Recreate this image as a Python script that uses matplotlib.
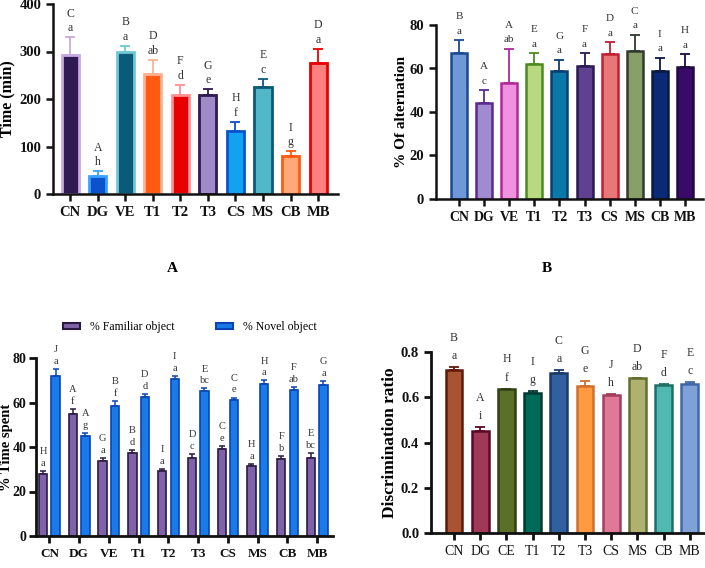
import matplotlib
matplotlib.use("Agg")
import matplotlib.pyplot as plt
from matplotlib.patches import Patch

plt.rcParams["font.family"] = ["Liberation Serif", "DejaVu Serif"]

# ---- data ----------------------------------------------------------------
groups = ["CN", "DG", "VE", "T1", "T2", "T3", "CS", "MS", "CB", "MB"]
groups_d = ["CN", "DG", "CE", "T1", "T2", "T3", "CS", "MS", "CB", "MB"]

time_mean = [292, 38, 298, 252, 209, 209, 133, 225, 81, 275]
time_err = [38, 10, 14, 31, 21, 11, 19, 18, 9, 31]
time_up = ["C", "A", "B", "D", "F", "G", "H", "E", "I", "D"]
time_low = ["a", "h", "a", "ab", "d", "e", "f", "c", "g", "a"]

alt_mean = [67, 44, 53.5, 62, 59, 61, 66.5, 68, 59, 60.5]
alt_err = [6, 6, 15.5, 5, 5, 6, 5.5, 7.5, 6, 6]
alt_up = ["B", "A", "A", "E", "G", "F", "D", "C", "I", "H"]
alt_low = ["a", "c", "ab", "a", "a", "a", "a", "a", "a", "a"]

fam_mean = [28, 55, 33.5, 37.5, 29.2, 35.2, 39, 31.5, 34.5, 35.2]
fam_err = [1.2, 2.0, 1.7, 1.2, 0.8, 1.5, 1.3, 0.8, 1.3, 2.2]
fam_up = ["H", "A", "G", "B", "I", "D", "C", "H", "F", "E"]
fam_low = ["a", "f", "a", "d", "a", "c", "e", "a", "b", "bc"]
nov_mean = [72, 45, 58.3, 62.3, 70.6, 65, 61, 68.5, 65.5, 68]
nov_err = [3.0, 1.3, 2.2, 1.5, 1.3, 1.3, 1.2, 1.4, 1.4, 1.6]
nov_up = ["J", "A", "B", "D", "I", "E", "C", "H", "F", "G"]
nov_low = ["a", "g", "f", "d", "a", "bc", "e", "a", "ab", "a"]

dr_mean = [0.72, 0.45, 0.635, 0.62, 0.705, 0.648, 0.61, 0.683, 0.652, 0.658]
dr_err = [0.015, 0.017, 0.003, 0.007, 0.015, 0.026, 0.003, 0.003, 0.006, 0.009]
dr_up = ["B", "A", "H", "I", "C", "G", "J", "D", "F", "E"]
dr_low = ["a", "i", "f", "g", "a", "e", "h", "ab", "d", "c"]

# ---- colours (fill, edge) ------------------------------------------------
A_FILL = ["#2f1a52", "#0b52cc", "#0b5a78", "#ff5a12", "#e80000",
          "#a08ac8", "#12a2f0", "#52b8c8", "#ffa87a", "#ff8080"]
A_EDGE = ["#c8aae2", "#3aa2ff", "#72c8d8", "#ffb292", "#ff9090",
          "#2f1a52", "#0b52cc", "#0b5a78", "#ff5a12", "#e80000"]
B_FILL = ["#7098d8", "#a08ad0", "#f092e0", "#b8d882", "#0a78a8",
          "#604090", "#e87878", "#88a068", "#0a2a78", "#3a0a68"]
B_EDGE = ["#1a4a90", "#5a2a90", "#b02a98", "#4a8a20", "#0a4070",
          "#2a1a50", "#c02030", "#303a30", "#0a1a40", "#200a40"]
D_FILL = ["#a85432", "#a03858", "#5a7028", "#006a58", "#3060a0",
          "#ff9a40", "#e07898", "#b0b070", "#50b8b0", "#80a0d8"]
D_EDGE = ["#601a08", "#5a0a28", "#304010", "#003a30", "#1a3a6a",
          "#d07030", "#a04060", "#607030", "#207068", "#4068a8"]
FAM_FILL, FAM_EDGE = "#8062aa", "#2a1a42"
NOV_FILL, NOV_EDGE = "#1a7ae8", "#0a44b4"

W, H = 705, 568
fig = plt.figure(figsize=(W / 100, H / 100), dpi=100)


def px_axes(left, right, bottom, top):
    return fig.add_axes([left / W, 1 - bottom / H, (right - left) / W, (bottom - top) / H])


def style(ax, bold_x=True, lw=1.8, xfs=10, yfs=10.5):
    for s in ("top", "right"):
        ax.spines[s].set_visible(False)
    for s in ("left", "bottom"):
        ax.spines[s].set_linewidth(lw)
        ax.spines[s].set_color("#111111")
    ax.tick_params(width=lw, length=5, colors="#111111")
    for t in ax.get_yticklabels():
        t.set_fontweight("bold")
        t.set_fontsize(yfs)
    for t in ax.get_xticklabels():
        t.set_fontweight("bold" if bold_x else "normal")
        t.set_fontsize(xfs)


def bars(ax, x, mean, err, fills, edges, width, lw=1.6):
    ax.bar(x, mean, width=width, color=fills, edgecolor=edges, linewidth=lw, zorder=2)
    for xi, m, e, c in zip(x, mean, err, edges):
        ax.errorbar(xi, m, yerr=[[0], [e]], ecolor=c, elinewidth=1.3,
                    capsize=3.5, capthick=1.3, fmt="none", zorder=1)


def letters(ax, x, mean, err, up, low, fs=8.5, d1=6.5, d2=17):
    for xi, m, e, u, l in zip(x, mean, err, up, low):
        ax.annotate(l, (xi, m + e), xytext=(0, d1), textcoords="offset points",
                    ha="center", va="center", fontsize=fs, color="#333333")
        ax.annotate(u, (xi, m + e), xytext=(0, d2), textcoords="offset points",
                    ha="center", va="center", fontsize=fs, color="#333333")


xs = list(range(len(groups)))

# ---- A: time -------------------------------------------------------------
axA = px_axes(53, 338, 194, 4)
bars(axA, xs, time_mean, time_err, A_FILL, A_EDGE, 0.62, lw=2.0)
letters(axA, xs, time_mean, time_err, time_up, time_low)
axA.set_ylim(0, 400)
axA.set_yticks([0, 100, 200, 300, 400])
axA.set_xlim(-0.62, 9.72)
axA.set_xticks(xs)
axA.set_xticklabels(groups)
axA.set_ylabel("Time (min)", fontsize=11.5, fontweight="bold", labelpad=3)
style(axA, xfs=10.5)
fig.text(172 / W, 1 - 268 / H, "A", ha="center", va="center", fontsize=11, fontweight="bold")

# ---- B: alternation -------------------------------------------------------
axB = px_axes(436, 703, 199, 25)
bars(axB, xs, alt_mean, alt_err, B_FILL, B_EDGE, 0.64, lw=1.8)
letters(axB, xs, alt_mean, alt_err, alt_up, alt_low, fs=8)
axB.set_ylim(0, 80)
axB.set_yticks([0, 20, 40, 60, 80])
axB.set_xlim(-0.92, 9.72)
axB.set_xticks(xs)
axB.set_xticklabels(groups)
axB.set_ylabel("% Of alternation", fontsize=11, fontweight="bold", labelpad=1)
style(axB)
fig.text(547 / W, 1 - 268 / H, "B", ha="center", va="center", fontsize=11, fontweight="bold")

# ---- C: time spent familiar vs novel --------------------------------------
axC = px_axes(36, 333, 536, 358)
off, bw = 0.21, 0.28
xf = [x - off for x in xs]
xn = [x + off for x in xs]
axC.bar(xf, fam_mean, width=bw, color=FAM_FILL, edgecolor=FAM_EDGE, linewidth=1.2, zorder=2)
axC.bar(xn, nov_mean, width=bw, color=NOV_FILL, edgecolor=NOV_EDGE, linewidth=1.2, zorder=2)
for xi, m, e in zip(xf, fam_mean, fam_err):
    axC.errorbar(xi, m, yerr=[[0], [e]], ecolor=FAM_EDGE, elinewidth=1.1,
                 capsize=2.5, capthick=1.1, fmt="none", zorder=1)
for xi, m, e in zip(xn, nov_mean, nov_err):
    axC.errorbar(xi, m, yerr=[[0], [e]], ecolor=NOV_EDGE, elinewidth=1.1,
                 capsize=2.5, capthick=1.1, fmt="none", zorder=1)
letters(axC, xf, fam_mean, fam_err, fam_up, fam_low, fs=7.5, d1=5.5, d2=14)
letters(axC, xn, nov_mean, nov_err, nov_up, nov_low, fs=7.5, d1=5.5, d2=14)
axC.set_ylim(0, 80)
axC.set_yticks([0, 20, 40, 60, 80])
axC.set_xlim(-0.45, 9.53)
axC.set_xticks(xs)
axC.set_xticklabels(groups)
axC.tick_params(axis="y", pad=2)
style(axC, lw=2.0, xfs=9.5, yfs=10)
fig.text(7 / W, 1 - 447 / H, "% Time spent", rotation=90, ha="center", va="center",
         fontsize=10.5, fontweight="bold")
handles = [Patch(facecolor=FAM_FILL, edgecolor=FAM_EDGE, linewidth=1.5, label="% Familiar object"),
           Patch(facecolor=NOV_FILL, edgecolor=NOV_EDGE, linewidth=1.5, label="% Novel object")]
fig.legend(handles=handles, loc="center", bbox_to_anchor=(190 / W, 1 - 327 / H), ncol=2,
           frameon=False, fontsize=8.5, handlelength=1.45, handleheight=0.45,
           columnspacing=3.5, handletextpad=0.85)

# ---- D: discrimination ratio ---------------------------------------------
axD = px_axes(431, 705, 533, 352)
bars(axD, xs, dr_mean, dr_err, D_FILL, D_EDGE, 0.64, lw=1.8)
letters(axD, xs, dr_mean, dr_err, dr_up, dr_low, fs=8.5, d1=8, d2=21)
axD.set_ylim(0, 0.8)
axD.set_yticks([0.0, 0.2, 0.4, 0.6, 0.8])
axD.set_yticklabels(["0.0", "0.2", "0.4", "0.6", "0.8"])
axD.set_xlim(-0.88, 9.58)
axD.set_xticks(xs)
axD.set_xticklabels(groups_d)
axD.set_ylabel("Discrimination ratio", fontsize=12.5, fontweight="bold", labelpad=2)
style(axD, bold_x=False, lw=2.0)

fig.savefig("out.png", dpi=100, facecolor="white")
